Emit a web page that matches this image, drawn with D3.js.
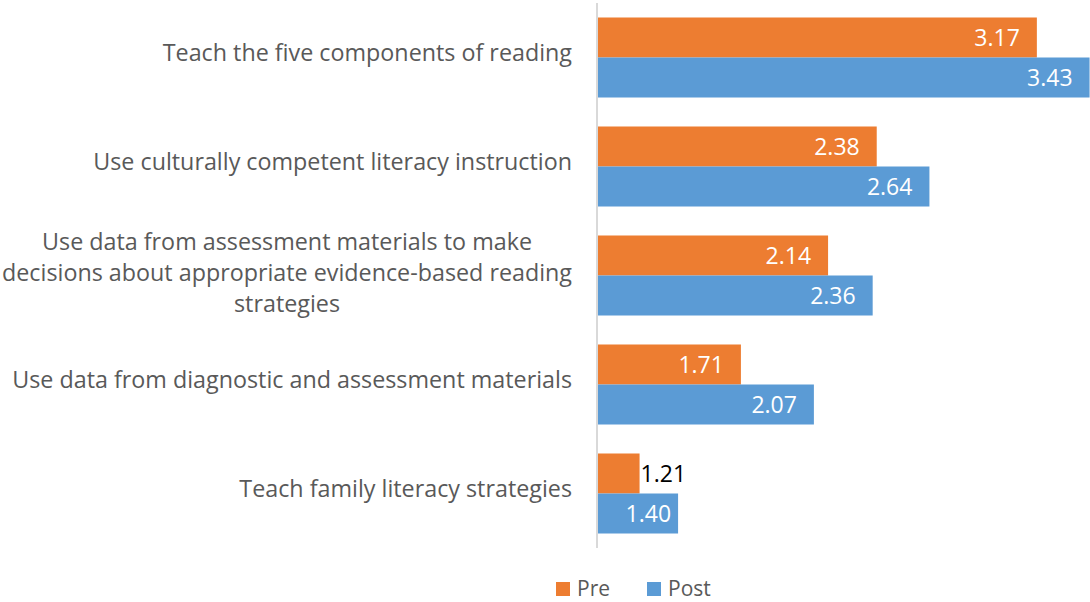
<!DOCTYPE html>
<html lang="en">
<head>
<meta charset="UTF-8">
<title>Pre / Post</title>
<style>
  body { margin: 0; background: #fff; }
  svg { display: block; font-family: "Open Sans", sans-serif; }
</style>
</head>
<body>
<div id="chart"></div>
<script src="https://cdn.jsdelivr.net/npm/d3@7"></script>
<script>
// categories, top to bottom (\n = line break as in the original)
const categories = [
  "Teach the five components of reading",
  "Use culturally competent literacy instruction",
  "Use data from assessment materials to make\ndecisions about appropriate evidence-based reading\nstrategies",
  "Use data from diagnostic and assessment materials",
  "Teach family literacy strategies"
];
const series = ["Pre", "Post"];
const preValues = [3.17, 2.38, 2.14, 1.71, 1.21];
const postValues = [3.43, 2.64, 2.36, 2.07, 1.40];

const colors = { Pre: "#ED7D31", Post: "#5B9BD5" };

const width = 1090, height = 602;
const axisX = 597;

const svg = d3.select("#chart").append("svg")
  .attr("width", width)
  .attr("height", height);

const x = d3.scaleLinear()
  .domain([1, 3.5])
  .range([axisX, axisX + 2.5 * 202.7]);

const y = d3.scaleBand()
  .domain(categories)
  .range([3, 548])
  .paddingInner(0.266)
  .paddingOuter(0.133);

const ySub = d3.scaleBand()
  .domain(series)
  .range([0, y.bandwidth()]);

const rows = categories.map((c, i) => ({
  cat: c,
  vals: [{ s: "Pre", v: preValues[i] }, { s: "Post", v: postValues[i] }]
}));

const groups = svg.selectAll(".grp")
  .data(rows)
  .enter().append("g")
  .attr("class", "grp")
  .attr("transform", d => `translate(0,${y(d.cat)})`);

groups.selectAll("rect")
  .data(d => d.vals)
  .enter().append("rect")
  .attr("x", x(1))
  .attr("y", d => ySub(d.s))
  .attr("width", d => x(d.v) - x(1))
  .attr("height", ySub.bandwidth())
  .attr("fill", d => colors[d.s]);

// value labels: inside end, or outside when the bar is too short
groups.selectAll(".val")
  .data(d => d.vals)
  .enter().append("text")
  .attr("class", "val")
  .attr("font-size", 23)
  .attr("dy", "0.38em")
  .attr("y", d => ySub(d.s) + ySub.bandwidth() / 2)
  .each(function (d) {
    const w = x(d.v) - x(1);
    const t = d3.select(this);
    if (w < 60) {
      t.attr("x", x(d.v) + 1).attr("text-anchor", "start").attr("fill", "#000");
    } else {
      t.attr("x", x(d.v) - (w < 100 ? 7 : 17)).attr("text-anchor", "end").attr("fill", "#fff");
    }
  })
  .text(d => d3.format(".2f")(d.v));

// axis line
svg.append("line")
  .attr("x1", axisX).attr("x2", axisX)
  .attr("y1", y.range()[0]).attr("y2", y.range()[1])
  .attr("stroke", "#d9d9d9")
  .attr("stroke-width", 2);

// category labels: block right-aligned at 572, lines centred inside the block
const lineH = 31;
const labelRight = 572;
svg.selectAll(".cat")
  .data(categories)
  .enter().append("text")
  .attr("class", "cat")
  .attr("text-anchor", "middle")
  .attr("font-size", 23.3)
  .attr("fill", "#595959")
  .each(function (d) {
    const lines = d.split("\n");
    const cy = y(d) + y.bandwidth() / 2;
    const off = lines.length > 1 ? 5 : 3;
    const tspans = d3.select(this).selectAll("tspan")
      .data(lines)
      .enter().append("tspan")
      .attr("y", (l, i) => cy + off + (i - (lines.length - 1) / 2) * lineH)
      .text(l => l);
    let maxW = 0;
    tspans.each(function () { maxW = Math.max(maxW, this.getComputedTextLength()); });
    tspans.attr("x", labelRight - maxW / 2);
  });

// legend
const legend = svg.append("g").attr("transform", "translate(556,582)");
const legendX = { Pre: 0, Post: 91 };
series.forEach(s => {
  const g = legend.append("g").attr("transform", `translate(${legendX[s]},0)`);
  g.append("rect").attr("width", 14).attr("height", 14).attr("fill", colors[s]);
  g.append("text")
    .attr("x", 21)
    .attr("y", 14)
    .attr("font-size", 21)
    .attr("fill", "#595959")
    .text(s);
});
</script>
</body>
</html>
